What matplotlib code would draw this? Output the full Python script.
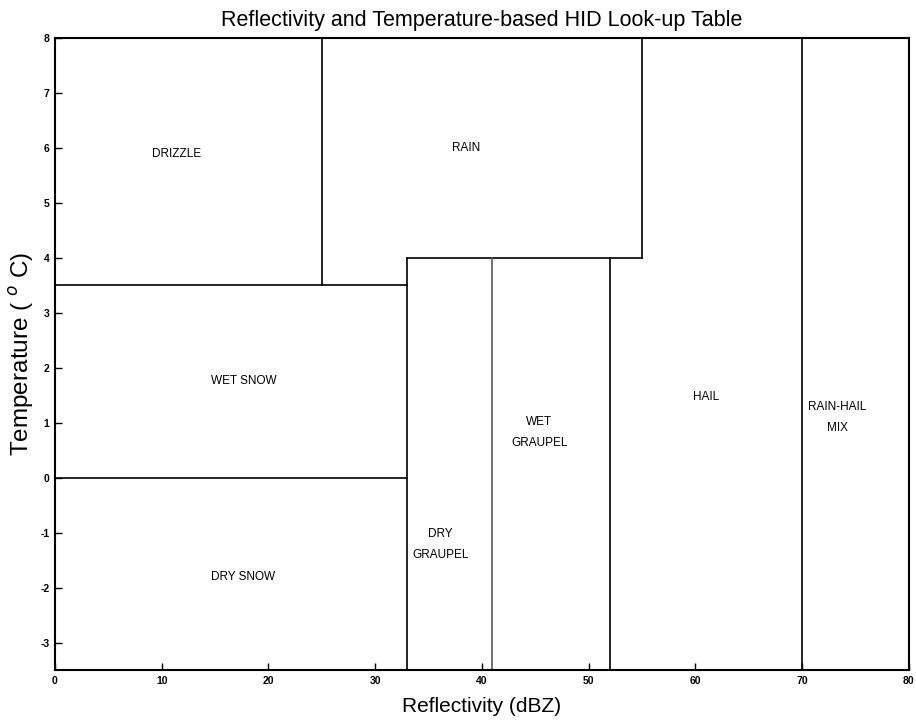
import numpy as np
import matplotlib
matplotlib.use("Agg")
import matplotlib.pyplot as plt

plt.rcParams['font.family'] = ['Liberation Sans', 'DejaVu Sans']
plt.rcParams['axes.unicode_minus'] = False

# Границы классов (dBZ, °C): отрезки x0, x1, y0, y1
seg_x0 = [25, 0, 0, 33, 33, 55, 41, 52, 70]
seg_x1 = [25, 33, 33, 33, 55, 55, 41, 52, 70]
seg_y0 = [3.5, 3.5, 0, -3.5, 4, 4, -3.5, -3.5, -3.5]
seg_y1 = [8, 3.5, 0, 4, 4, 8, 4, 4, 8]
seg_col = ['k', 'k', 'k', 'k', 'k', 'k', '0.35', 'k', 'k']

# Подписи классов гидрометеоров
names = ["DRIZZLE", "RAIN", "WET SNOW", "DRY SNOW", "DRY\nGRAUPEL",
         "WET\nGRAUPEL", "HAIL", "RAIN-HAIL\nMIX"]
name_x = [11.4, 38.5, 17.7, 17.6, 36.1, 45.4, 61.0, 73.3]
name_y = [5.9, 6.0, 1.76, -1.8, -1.22, 0.82, 1.47, 1.09]

xticks = np.arange(0, 81, 10)
yticks = np.arange(-3, 9, 1)

fig = plt.figure(figsize=(9.16, 7.21), dpi=100)
ax = fig.add_axes([0.060, 0.0707, 0.932, 0.8763])

for i in range(len(seg_x0)):
    ax.plot([seg_x0[i], seg_x1[i]], [seg_y0[i], seg_y1[i]],
            color=seg_col[i], linewidth=1.2)

for i in range(len(names)):
    ax.text(name_x[i], name_y[i], names[i], ha='center', va='center',
            fontsize=8.5, linespacing=2.0)

ax.set_xlim(0, 80)
ax.set_ylim(-3.5, 8)
ax.set_xticks(xticks)
ax.set_yticks(yticks)
ax.tick_params(direction='in', length=5, width=1, labelsize=7.5, pad=4)
for lab in ax.get_xticklabels() + ax.get_yticklabels():
    lab.set_fontweight('bold')
for s in ax.spines.values():
    s.set_linewidth(1.5)

ax.set_title("Reflectivity and Temperature-based HID Look-up Table",
             fontsize=15.5, pad=9)
ax.set_xlabel("Reflectivity (dBZ)", fontsize=15, labelpad=8)
ax.set_ylabel("Temperature ( $^{o}$ C)", fontsize=17.5, labelpad=3)

plt.savefig("out.png", dpi=100)
